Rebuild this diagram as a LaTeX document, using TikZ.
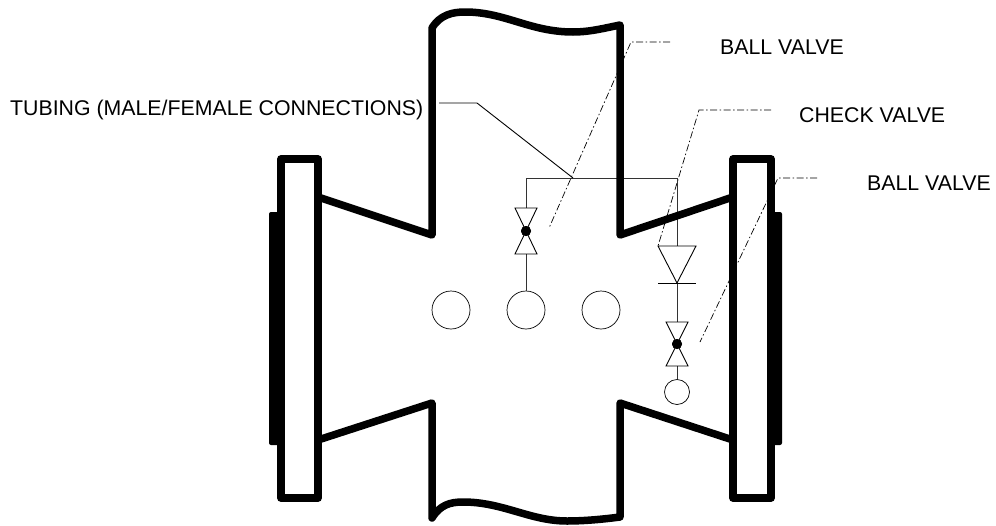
\documentclass[tikz,border=0pt]{standalone}
\usepackage{fontspec}
\setmainfont{Liberation Sans}
\tikzset{
  x=1pt,y=-1pt,
  heavy/.style={line width=7.5pt,line join=round,line cap=round},
  thin line/.style={line width=1pt,color=black!80},
  leader/.style={line width=0.7pt,dash pattern=on 7pt off 2.5pt on 1.5pt off 2.5pt},
  symbol/.style={line width=0.9pt,line join=miter},
  gauge/.style={circle,draw,line width=0.7pt,inner sep=0pt,minimum size=38pt},
  smallgauge/.style={circle,draw,line width=0.7pt,inner sep=0pt,minimum size=25pt},
  seat/.style={circle,fill=black,inner sep=0pt,minimum size=10pt},
  lbl/.style={inner sep=0pt,anchor=base west,font=\fontsize{21.3pt}{24pt}\selectfont}
}
\begin{document}
\begin{tikzpicture}
\useasboundingbox (0,0) rectangle (996,525);
% labels
\node[lbl] (tubinglbl) at (10,115) {TUBING (MALE/FEMALE CONNECTIONS)};
\node[lbl] (ball1lbl) at (720,54) {BALL VALVE};
\node[lbl] (checklbl) at (799,122) {CHECK VALVE};
\node[lbl] (ball2lbl) at (867,190) {BALL VALVE};
% free ends of leaders
\coordinate (b1s) at (670,42); \coordinate (b1k) at (631,42); \coordinate (b1e) at (549,228);
\coordinate (cs) at (771,110); \coordinate (ck) at (699,110); \coordinate (ce) at (658,246);
\coordinate (b2s) at (817,178); \coordinate (b2k) at (778,178); \coordinate (b2e) at (700,342);
\coordinate (ts) at (439,103); \coordinate (tk) at (477,103);
% tubing junctions
\coordinate (tl) at (526,178); \coordinate (tj) at (573,178); \coordinate (tr) at (677,178);
% leaders
\draw[leader] (b1s) -- (b1k) -- (b1e);
\draw[leader] (cs) -- (ck) -- (ce);
\draw[leader] (b2s) -- (b2k) -- (b2e);
% gauges
\node[gauge] (g1) at (451,310) {};
\node[gauge] (g2) at (526,310) {};
\node[gauge] (g3) at (601,310) {};
\node[smallgauge] (g4) at (677,392) {};
% seats
\node[seat] (v1) at (526,231) {};
\node[seat] (v2) at (677,344) {};
% tubing
\coordinate (v1t) at (526,208); \coordinate (v1b) at (526,254);
\coordinate (v2t) at (677,322); \coordinate (v2b) at (677,366);
\coordinate (dt) at (677,246); \coordinate (db) at (677,283);
\draw[thin line] (v1t) -- (tl) -- (tr) -- (dt);
\draw[thin line] (v1b) -- (g2);
\draw[thin line] (db) -- (v2t);
\draw[thin line] (v2b) -- (g4);
\draw[line width=0.9pt] (ts) -- (tk) -- (tj);
% valve and check symbols
\draw[symbol] (515,208) -- (537,208) -- (515,254) -- (537,254) -- cycle;
\draw[symbol] (666,322) -- (688,322) -- (666,366) -- (688,366) -- cycle;
\draw[symbol] (658,246) -- (696,246) -- (677,283) -- cycle;
\draw[symbol] (658,283) -- (696,283);
\node[seat] at (v1) {};
\node[seat] at (v2) {};
% body
\draw[heavy] (318,197) -- (432,235) -- (432,28)
  .. controls (440,15) and (452,12) .. (465,12)
  .. controls (505,12) and (530,32) .. (573,32)
  .. controls (590,32) and (605,28) .. (620,25)
  -- (620,235) -- (733,197);
\draw[heavy] (318,440) -- (432,403) -- (432,518)
  .. controls (440,505) and (450,502) .. (463,502)
  .. controls (503,502) and (530,521) .. (567,521)
  .. controls (585,521) and (605,519) .. (620,517)
  -- (620,403) -- (733,440);
% flanges
\draw[heavy] (281,159) rectangle (318,498);
\draw[heavy] (733,159) rectangle (771,498);
\fill[rounded corners=2pt] (269,212) rectangle (284,445);
\fill[rounded corners=2pt] (767,212) rectangle (782,445);
\end{tikzpicture}
\end{document}
